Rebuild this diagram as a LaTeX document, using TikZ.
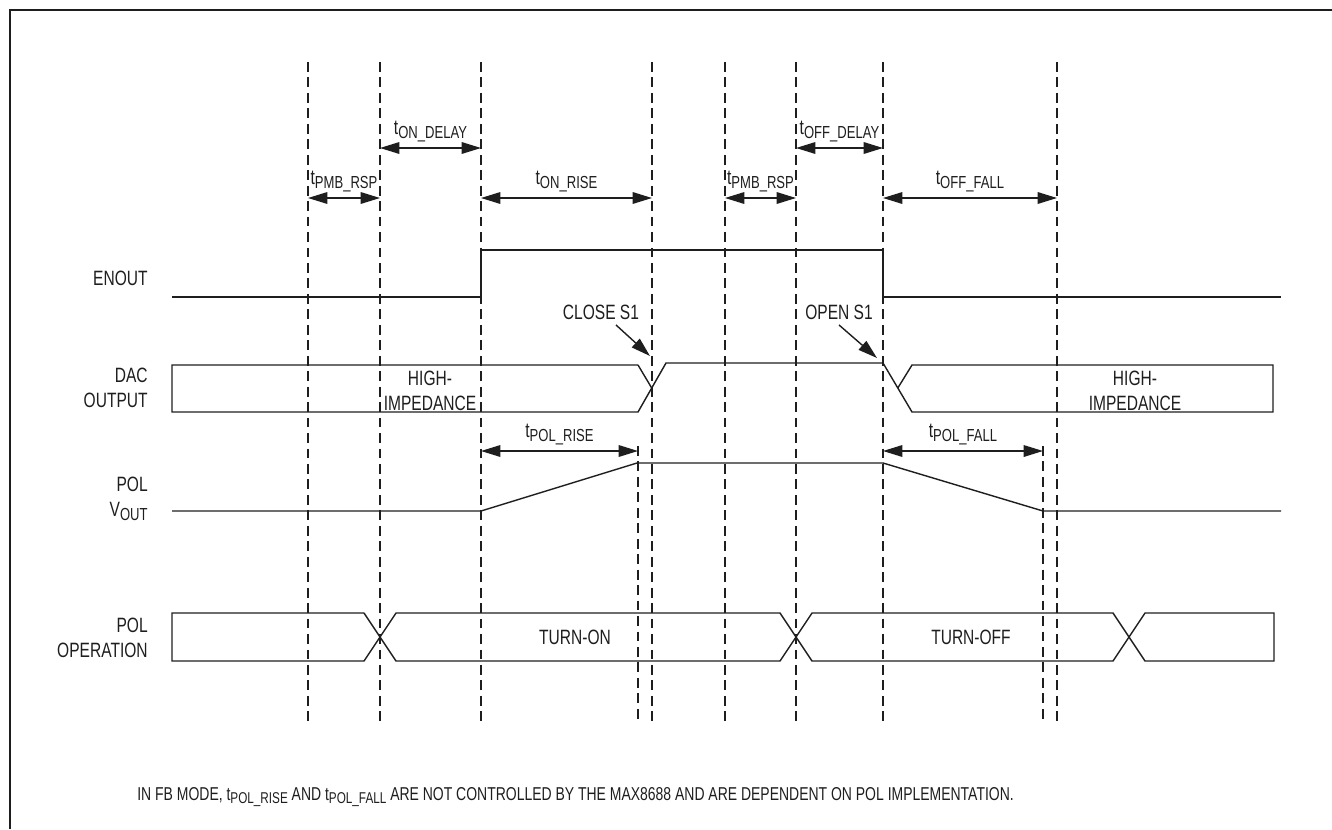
\documentclass[tikz,border=0pt]{standalone}
\usepackage{fontspec}
\setmainfont{Liberation Sans}[FakeStretch=0.75]
\usepackage{xcolor}
\definecolor{TDInk}{HTML}{1E1E1E}
\usepackage{tikz}
\usetikzlibrary{arrows.meta,positioning}
\newcommand{\lowsub}[2]{#1\raisebox{-0.35ex}{\scalebox{0.84}{#2}}}
\newcommand{\tsub}[1]{\lowsub{t}{#1}}

\begin{document}
\begin{tikzpicture}[x=0.02cm,y=-0.02cm,
  guide/.style={TDInk,dash pattern=on 5.6pt off 3.2pt,line width=0.65pt},
  sig/.style={TDInk,line width=0.8pt,line join=miter},
  span/.style={TDInk,line width=0.8pt,{Triangle[length=11pt,width=6.6pt]}-{Triangle[length=11pt,width=6.6pt]}},
  call/.style={TDInk,line width=0.8pt,-{Triangle[length=11pt,width=6.6pt]}},
  txt/.style={font=\fontsize{11.8}{14.2}\selectfont,text=TDInk,inner sep=0pt},
  lbl/.style={txt,align=right,anchor=east}]
  \useasboundingbox (0,0) rectangle (1332,829);
  \draw[TDInk,line width=1.2pt] (10,829) -- (10,10) -- (1332,10);
  % guide lines
  \foreach \n/\x/\y in {a/308/62,b/380/62,c/481/62,d/638/446,e/652/62,f/725/62,g/796/62,h/883/62,i/1043/446,j/1057/62}{
    \coordinate (T\n) at (\x,\y);
    \coordinate (B\n) at (\x,722);
    \draw[guide] (T\n) -- (B\n);
  }
  % time spans
  \foreach \p/\q/\y/\t in {a/b/198/PMB\_RSP,b/c/148/ON\_DELAY,c/e/198/ON\_RISE,f/g/198/PMB\_RSP,g/h/148/OFF\_DELAY,h/j/198/OFF\_FALL,c/d/451/POL\_RISE,h/i/451/POL\_FALL}{
    \draw[span] (T\p |- 0,\y) -- node[txt,above=3pt] (t\p\q) {\tsub{\t}} (T\q |- 0,\y);
  }
  % signal names
  \node[lbl] (enout) at (148,278) {ENOUT};
  \node[lbl] (dac) at (148,388) {DAC\\OUTPUT};
  \node[lbl] (vout) at (148,499) {POL\\\lowsub{V}{OUT}};
  \node[lbl] (oper) at (148,638) {POL\\OPERATION};
  % waveforms
  \draw[sig] (172,297) -- (481,297) -- (481,250) -- (883,250) -- (883,297) -- (1281,297);
  \draw[sig] (638,365) -- (172,365) -- (172,412) -- (638,412) -- (666,363) -- (883,363) -- (912,412) -- (1273,412) -- (1273,365) -- (912,365) -- (897.8,388);
  \draw[sig] (638,365) -- (651.7,388);
  \draw[sig] (172,511) -- (481,511) -- (637,463) -- (883,463) -- (1043,511) -- (1281,511);
  \draw[sig] (364,613) -- (172,613) -- (172,661) -- (364,661) -- (396,613) -- (780,613) -- (812,661) -- (1113,661) -- (1145,613) -- (1274,613) -- (1274,661) -- (1145,661) -- (1113,613) -- (812,613) -- (780,661) -- (396,661) -- (364,613);
  \node[txt,align=center] (hiz1) at (430,391) {HIGH-\\IMPEDANCE};
  \node[txt,align=center] (hiz2) at (1135,391) {HIGH-\\IMPEDANCE};
  \node[txt] (turnon) at (575,637) {TURN-ON};
  \node[txt] (turnoff) at (971,637) {TURN-OFF};
  % switch events
  \node[txt] (close) at (601,312) {CLOSE S1};
  \node[txt] (open) at (839,312) {OPEN S1};
  \coordinate (closept) at (650,356);
  \coordinate (openpt) at (877,358);
  \draw[call] ([xshift=0.3cm,yshift=-3pt]close.south) -- (closept);
  \draw[call] ([yshift=-3pt]open.south) -- (openpt);
  \node[txt,font=\fontsize{10.6}{12}\selectfont,anchor=west] (note) at (137,797) {IN FB MODE, \tsub{POL\_RISE} AND \tsub{POL\_FALL} ARE NOT CONTROLLED BY THE MAX8688 AND ARE DEPENDENT ON POL IMPLEMENTATION.};
\end{tikzpicture}
\end{document}
